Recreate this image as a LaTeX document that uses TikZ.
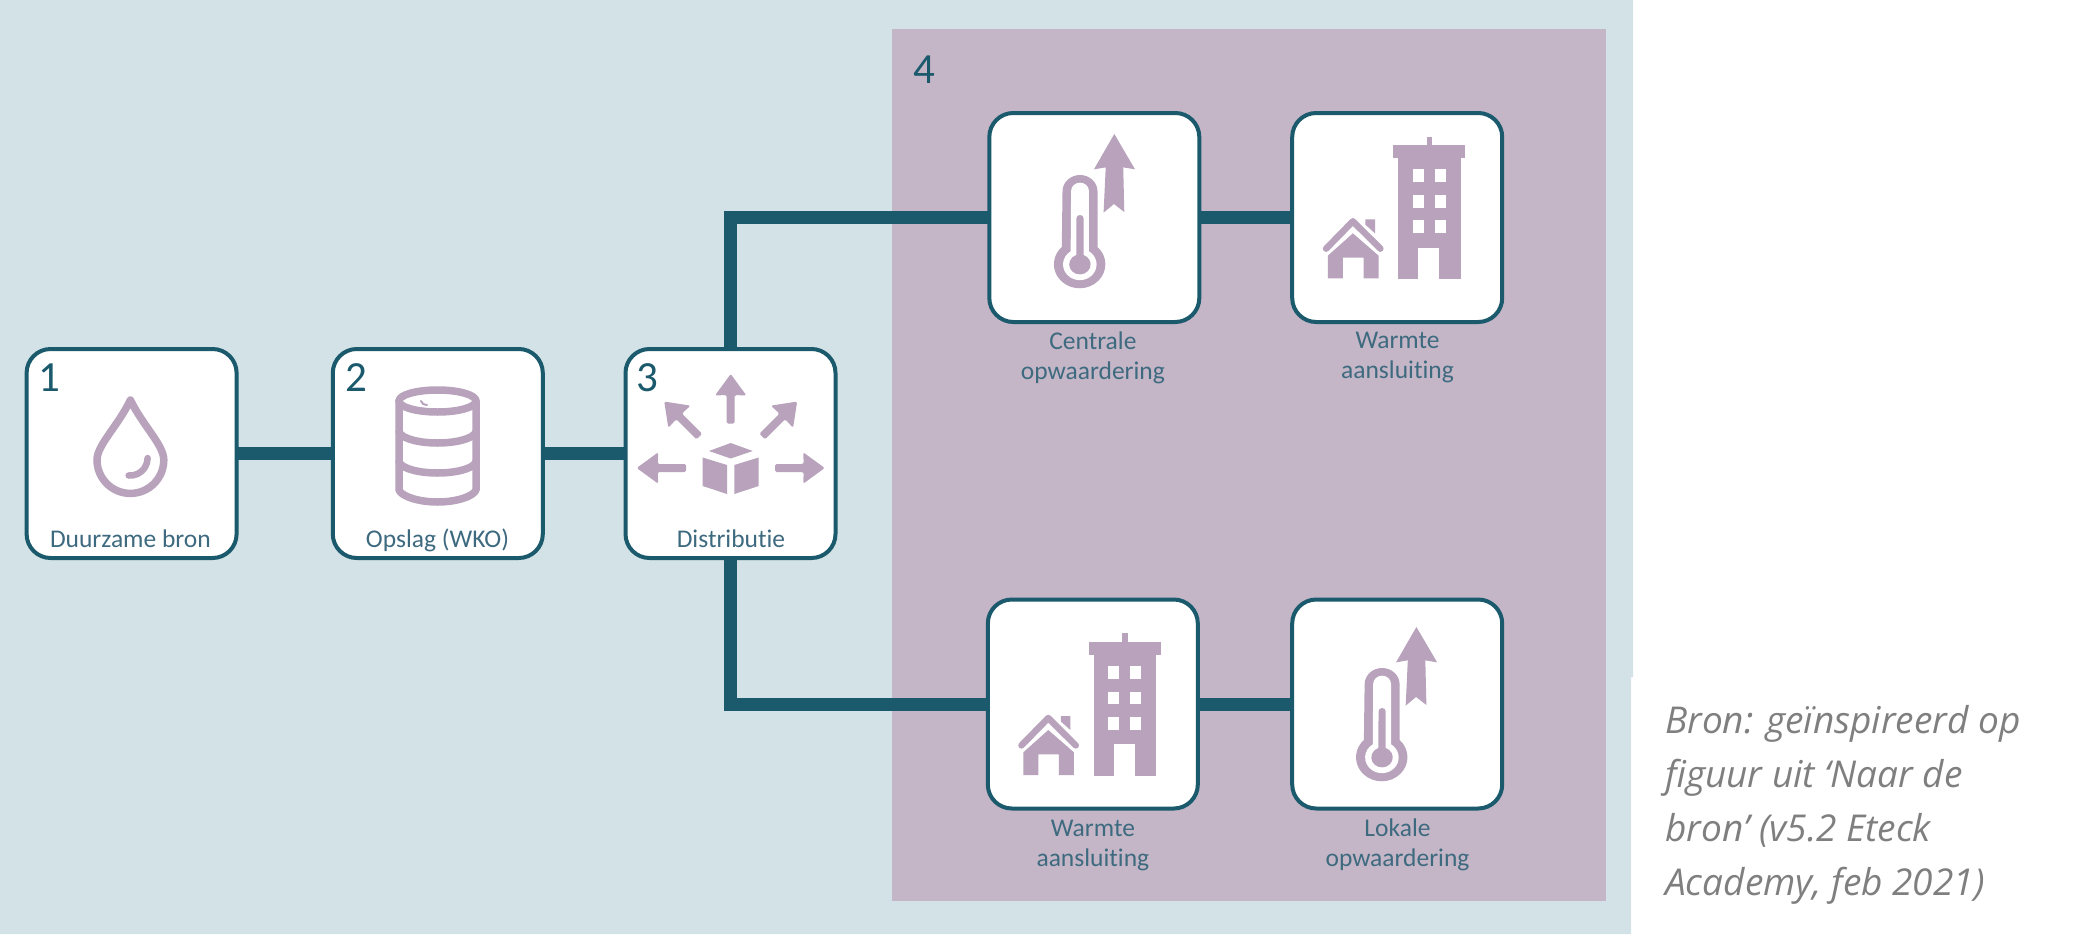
\documentclass[tikz,border=0pt]{standalone}
\usepackage{fontspec}
\setmainfont{Carlito}[Ligatures=NoCommon]
\newfontfamily\capfont{Open Sans}
\definecolor{bgblue}{HTML}{D3E2E6}
\definecolor{bgpurple}{HTML}{C4B6C6}
\definecolor{teal}{HTML}{1A5A6C}
\definecolor{icon}{HTML}{B8A2BC}
\definecolor{labeltxt}{HTML}{3E6A80}
\definecolor{captxt}{HTML}{7F7F7F}
\tikzset{
  box/.style={draw=teal,line width=4pt,fill=white,rounded corners=24pt,minimum width=210pt,minimum height=209pt,inner sep=0pt,outer sep=0pt},
  link/.style={draw=teal,line width=13pt,line join=miter},
  lab/.style={text=labeltxt,font=\fontsize{25.5}{30}\selectfont,align=center,inner sep=0pt},
  num/.style={text=teal,font=\fontsize{43}{43}\selectfont,inner sep=0pt,anchor=base west},
  ic/.style={fill=icon,draw=none},
  icl/.style={draw=icon,fill=none,line cap=round,line join=round},
  wh/.style={fill=white,draw=none},
}
% icons are written in the zoom frame (2.8x horizontally, 3x vertically)
\newcommand{\thermoicon}[2]{%
\begin{scope}[shift={(#1,#2)},x=0.35714pt,y=-0.33333pt]
  \fill[ic] (287,304) arc[start angle=180,end angle=360,radius=49] -- (385,471) arc[start angle=-46,end angle=226,radius=72] -- cycle;
  \fill[wh] (311,303) arc[start angle=180,end angle=360,radius=25] -- (361,484) arc[start angle=-57,end angle=237,radius=47] -- cycle;
  \fill[ic] (326,385) arc[start angle=180,end angle=360,radius=10] -- (346,495) arc[start angle=-70,end angle=250,radius=30] -- cycle;
  \fill[ic] (432,132) -- (490,238) -- (457,232) -- (460,366) -- (431,342) -- (402,368) -- (408,232) -- (375,238) -- cycle;
\end{scope}}
\newcommand{\homeicon}[2]{%
\begin{scope}[shift={(#1,#2)},x=0.35714pt,y=-0.33333pt]
  \fill[ic] (1307,165) rectangle (1322,140);
  \fill[ic] (1213,165) rectangle (1415,205);
  \fill[ic] (1227,205) rectangle (1402,567);
  \fill[wh] (1283,473) rectangle (1342,570);
  \foreach \wx in {1268,1330} \foreach \wy/\wz in {238/277,315/353,391/430}
    \fill[wh] (\wx,\wy) rectangle (\wx+31,\wz);
  \fill[ic] (1135,388) -- (1162,388) -- (1162,430) -- (1135,404) -- cycle;
  \draw[icl,line width=6.5pt] (1025,476) -- (1100,394) -- (1177,476);
  \fill[ic] (1100,430) -- (1172,497) -- (1172,565) -- (1130,565) -- (1130,503) -- (1072,503) -- (1072,565) -- (1030,565) -- (1030,497) -- cycle;
\end{scope}}
\newcommand{\outarrow}[1]{%
  \fill[ic,rotate around={#1:(730.7,468)},rounded corners=1.5pt] (726.7,423.5) -- (726.7,395) -- (715,395.5) -- (730.7,374) -- (746.4,395.5) -- (734.7,395) -- (734.7,423.5) -- cycle;}
\begin{document}
\begin{tikzpicture}[x=1pt,y=-1pt]
\useasboundingbox (0,0) rectangle (2079,934);
\fill[bgblue] (0,0) -- (1633,0) -- (1633,677) -- (1631,677) -- (1631,934) -- (0,934) -- cycle;
\fill[bgpurple] (892,29) rectangle (1606,901);

\node[box] (b1) at (131.6,453.5) {};
\node[box] (b2) at (437.8,453.5) {};
\node[box] (b3) at (730.5,453.5) {};
\node[box] (b4) at (1094.3,217.5) {};
\node[box] (b5) at (1397.2,217.5) {};
\node[box] (b6) at (1092.8,704) {};
\node[box] (b7) at (1397.2,704) {};

\draw[link] (b1.east) -- (b2.west);
\draw[link] (b2.east) -- (b3.west);
\draw[link] (b3.north) |- (b4.west);
\draw[link] (b3.south) |- (b6.west);
\draw[link] (b4.east) -- (b5.west);
\draw[link] (b6.east) -- (b7.west);

\node[num] (n1) at (38,391) {1};
\node[num] (n2) at (345,391) {2};
\node[num] (n3) at (636,391) {3};
\node[num] (n4) at (913,84) {4};

\node[lab,anchor=base] (l1) at (130.4,547) {Duurzame bron};
\node[lab,anchor=base] (l2) at (437.5,547) {Opslag (WKO)};
\node[lab,anchor=base] (l3) at (731,547) {Distributie};
\node[lab] (l4) at (1092.9,358) {Centrale\\opwaardering};
\node[lab] (l5) at (1397.5,358) {Warmte\\aansluiting};
\node[lab] (l6) at (1092.9,845) {Warmte\\aansluiting};
\node[lab] (l7) at (1397.5,845) {Lokale\\opwaardering};

% drop
\draw[icl,line width=7.5pt] (130.4,400) .. controls (118,426) and (97,445) .. (97,460) arc[start angle=180,end angle=0,radius=33.4] .. controls (163.8,445) and (143,426) .. (130.4,400) -- cycle;
\draw[icl,line width=6.5pt] (128.6,475.5) arc[start angle=95,end angle=0,radius=17.5];

% database
\draw[icl,line width=7.5pt] (437.5,401) ellipse[x radius=38.5,y radius=11];
\draw[icl,line width=7.5pt] (399,401) -- (399,490) .. controls (402,497) and (420,502) .. (437.5,502) .. controls (455,502) and (473,497) .. (476,490) -- (476,401);
\draw[icl,line width=7.5pt] (399,432) .. controls (402,439) and (420,443) .. (437.5,443) .. controls (455,443) and (473,439) .. (476,432);
\draw[icl,line width=7.5pt] (399,462) .. controls (402,469) and (420,473) .. (437.5,473) .. controls (455,473) and (473,469) .. (476,462);
\draw[icl,line width=2pt] (421,401) .. controls (422,404) and (424,405) .. (427,405);

% distribution
\foreach \ang in {-90,-45,0,45,90} {\outarrow{\ang}}
\fill[ic] (709,451) -- (730.7,443) -- (752.7,451) -- (730.7,458.5) -- cycle;
\fill[ic] (702.7,457.5) -- (727,465) -- (727,494) -- (702.7,486) -- cycle;
\fill[ic] (734.3,465) -- (758.7,457.5) -- (758.7,486) -- (734.3,494) -- cycle;

\thermoicon{960}{90}
\thermoicon{1262.1}{583}
\homeicon{960}{90}
\homeicon{655.4}{586.7}

\node[font=\capfont\itshape\fontsize{37}{54}\selectfont,text=captxt,align=left,inner sep=0pt,anchor=west] (cap) at (1665,805) {Bron: geïnspireerd op\\figuur uit ‘Naar de\\bron’ (v5.2 Eteck\\Academy, feb 2021)};
\end{tikzpicture}
\end{document}
